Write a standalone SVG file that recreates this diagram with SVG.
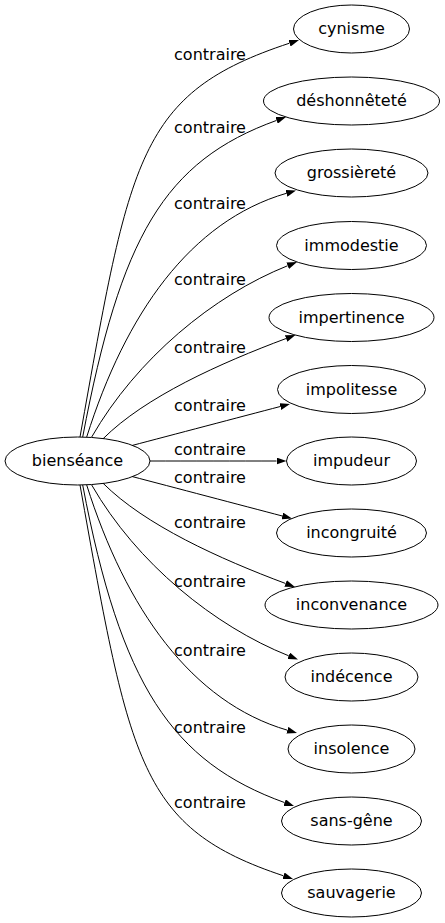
<svg xmlns="http://www.w3.org/2000/svg" width="445" height="923" viewBox="0 0 445 923">
<defs>
<marker id="arr" viewBox="0 0 10 7" refX="0" refY="3.5" markerWidth="10" markerHeight="7" markerUnits="userSpaceOnUse" orient="auto">
<path d="M0,0 L10,3.5 L0,7 z" fill="#000"/>
</marker>
<style>
.n ellipse{fill:none;stroke:#000;stroke-width:1}
.n text{font-family:"DejaVu Sans",sans-serif;font-size:16px;text-anchor:middle;fill:#000}
#edges path{fill:none;stroke:#000;stroke-width:1;marker-end:url(#arr)}
#edges text{font-family:"DejaVu Sans",sans-serif;font-size:16px;text-anchor:middle;fill:#000}
</style>
</defs>
<rect width="445" height="923" fill="#fff"/>
<g id="edges">
<path d="M80,437 C130,157 138,93 289.5,43.2"/>
<path d="M82.7,437 C120.7,237 163.8,161.2 276.6,120.4"/>
<path d="M86.7,437 C125.7,313.5 190.4,221.3 286.4,193.3"/>
<path d="M91.7,437 C136.7,358.7 213.4,295.3 287.7,265.7"/>
<path d="M103,438.8 C145,396.8 220.5,363 286.1,338.5"/>
<path d="M132,445.5 C170.7,435.3 241,416.8 280.3,406.5"/>
<path d="M150,461 C190,461 236,461 276.5,461"/>
<path d="M132,476.5 C171,486.7 243,505.7 282.3,516"/>
<path d="M103,483.2 C145,525.2 220,559 285.6,583.5"/>
<path d="M91.7,485 C136.7,563.3 214.4,626.2 288.7,655.8"/>
<path d="M86.7,485 C125.7,608.5 191.4,702.2 287.4,730.2"/>
<path d="M82.7,485 C120.7,685 171.8,761.8 284.6,802.6"/>
<path d="M80,485 C130,765 140.2,828.1 283.5,875.8"/>
<text x="210" y="60">contraire</text>
<text x="210" y="133">contraire</text>
<text x="210" y="209">contraire</text>
<text x="210" y="285">contraire</text>
<text x="210" y="353">contraire</text>
<text x="210" y="411">contraire</text>
<text x="210" y="455">contraire</text>
<text x="210" y="483">contraire</text>
<text x="210" y="528">contraire</text>
<text x="210" y="587">contraire</text>
<text x="210" y="656">contraire</text>
<text x="210" y="733">contraire</text>
<text x="210" y="808">contraire</text>
</g>
<g id="bienseance" class="n"><ellipse cx="77.5" cy="461" rx="72.5" ry="24"/><text x="77.5" y="466">bienséance</text></g>
<g id="cynisme" class="n"><ellipse cx="351.5" cy="29" rx="58" ry="24"/><text x="351.5" y="34">cynisme</text></g>
<g id="deshonnetete" class="n"><ellipse cx="351.5" cy="101" rx="88" ry="24"/><text x="351.5" y="106">déshonnêteté</text></g>
<g id="grossierete" class="n"><ellipse cx="351.5" cy="173" rx="76.5" ry="24"/><text x="351.5" y="178">grossièreté</text></g>
<g id="immodestie" class="n"><ellipse cx="351.5" cy="245.5" rx="75" ry="24"/><text x="351.5" y="250.5">immodestie</text></g>
<g id="impertinence" class="n"><ellipse cx="351.5" cy="317.5" rx="82.5" ry="24"/><text x="351.5" y="322.5">impertinence</text></g>
<g id="impolitesse" class="n"><ellipse cx="351.5" cy="389.5" rx="74" ry="24"/><text x="351.5" y="394.5">impolitesse</text></g>
<g id="impudeur" class="n"><ellipse cx="351.5" cy="461" rx="65" ry="24"/><text x="351.5" y="466">impudeur</text></g>
<g id="incongruite" class="n"><ellipse cx="351.5" cy="533" rx="75" ry="24"/><text x="351.5" y="538">incongruité</text></g>
<g id="inconvenance" class="n"><ellipse cx="351.5" cy="605" rx="86.5" ry="24"/><text x="351.5" y="610">inconvenance</text></g>
<g id="indecence" class="n"><ellipse cx="351.5" cy="677" rx="66.5" ry="24"/><text x="351.5" y="682">indécence</text></g>
<g id="insolence" class="n"><ellipse cx="351.5" cy="749" rx="63.5" ry="24"/><text x="351.5" y="754">insolence</text></g>
<g id="sans-gene" class="n"><ellipse cx="351.5" cy="821" rx="70" ry="24"/><text x="351.5" y="826">sans-gêne</text></g>
<g id="sauvagerie" class="n"><ellipse cx="351.5" cy="893" rx="70" ry="24"/><text x="351.5" y="898">sauvagerie</text></g>
</svg>
